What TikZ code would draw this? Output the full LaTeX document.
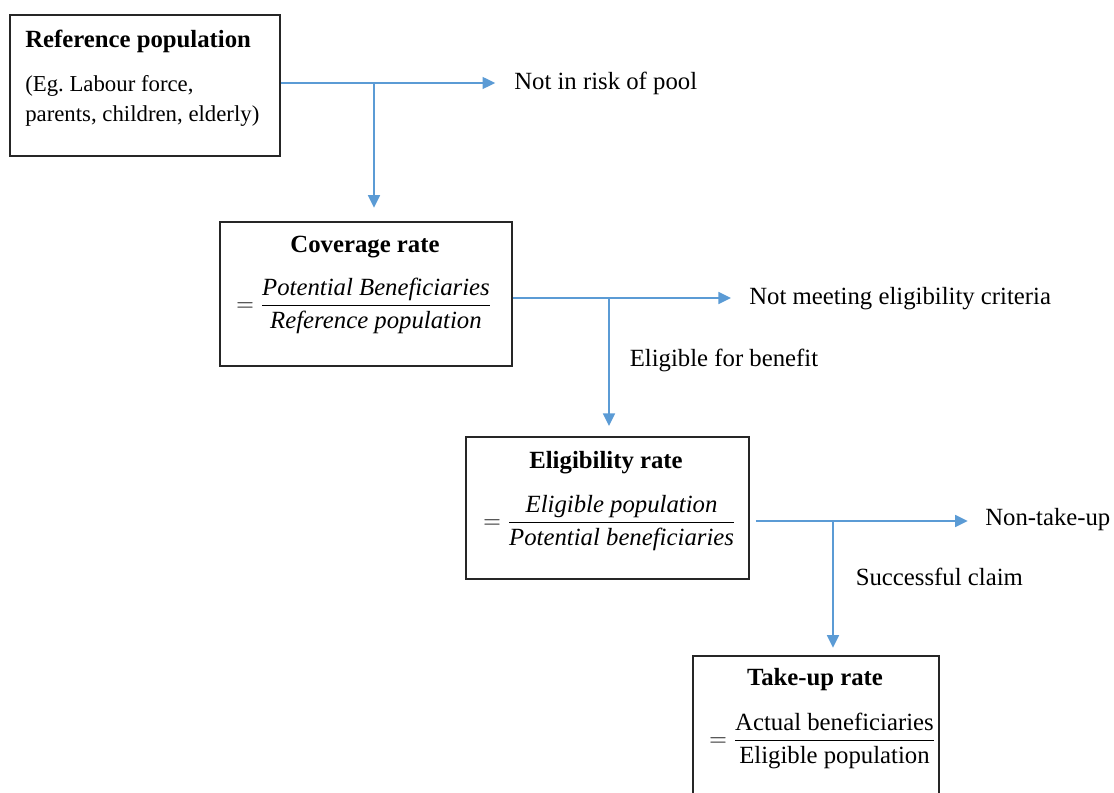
\documentclass[tikz,border=0pt]{standalone}
\usepackage{fontspec}
\setmainfont{Liberation Serif}
\usepackage{amsmath}
\usetikzlibrary{arrows.meta,positioning,calc}
\definecolor{flowblue}{RGB}{91,155,213}
\newcommand{\diagfont}{\fontsize{17.6}{21.3}\selectfont}
\newcommand{\notefont}{\fontsize{16.2}{21.3}\selectfont}

\begin{document}
\begin{tikzpicture}[x=0.025cm,y=-0.025cm]
	\tikzstyle{box} = [draw=black!85, line width=1.3pt, inner sep=0pt, anchor=north west]
	\tikzstyle{flow} = [draw=flowblue, line width=1.2pt, -{Triangle[length=9pt,width=8.5pt]}]
	\tikzstyle{lbl} = [inner sep=0pt, anchor=west, font=\diagfont]
	\tikzstyle{title} = [inner sep=0pt, font=\diagfont\bfseries]
	\useasboundingbox (0,0) rectangle (1114,793);
	\clip (0,0) rectangle (1114,793);
	% boxes
	\node[box, minimum width=6.75cm, minimum height=3.525cm] (refbox) at (9,14) {};
	\node[box, minimum width=7.3cm, minimum height=3.6cm] (covbox) at (219,221) {};
	\node[box, minimum width=7.075cm, minimum height=3.55cm] (elgbox) at (465,436) {};
	\node[box, minimum width=6.15cm, minimum height=3.7cm] (takebox) at (692,655) {};
	% box texts
	\node[title, anchor=west] (reftitle) at (25,41) {Reference population};
	\node[lbl, align=left, font=\notefont] (reftext) at (25,101) {(Eg.\ Labour force,\\parents, children, elderly)};
	\node[title] (covtitle) at (365,247) {Coverage rate};
	\node[lbl] (covrate) at (236,306) {$=\dfrac{\textit{Potential Beneficiaries}}{\textit{Reference population}}$};
	\node[title] (elgtitle) at (606,463) {Eligibility rate};
	\node[lbl] (elgrate) at (483,523) {$=\dfrac{\textit{Eligible population}}{\textit{Potential beneficiaries}}$};
	\node[title] (taketitle) at (815,680) {Take-up rate};
	\node[lbl] (takerate) at (709,741) {$=\dfrac{\text{Actual beneficiaries}}{\text{Eligible population}}$};
	% outcomes
	\node[lbl] (nrisk) at (514,83) {Not in risk of pool};
	\node[lbl] (notmeet) at (749,299) {Not meeting eligibility criteria};
	\node[lbl] (nontake) at (985,520) {Non-take-up};
	% junctions
	\coordinate (j1) at (374,83);
	\coordinate (j2) at (609,298);
	\coordinate (j3) at (833,521);
	\draw[flow, shorten >=0.47cm] (refbox.east |- j1) -- (nrisk.west |- j1);
	\draw[flow, shorten >=0.33cm] (j1) -- (j1 |- covbox.north);
	\draw[flow, shorten >=0.45cm] (covbox.east |- j2) -- (notmeet.west |- j2);
	\draw[flow, shorten >=0.25cm] (j2) -- node[lbl, right=0.5cm, pos=0.45] (eligible) {Eligible for benefit} (j2 |- elgbox.north);
	\draw[flow, shorten <=0.15cm, shorten >=0.43cm] (elgbox.east |- j3) -- (nontake.west |- j3);
	\draw[flow, shorten >=0.18cm] (j3) -- node[lbl, right=0.55cm, pos=0.42] (success) {Successful claim} (j3 |- takebox.north);
\end{tikzpicture}
\end{document}
